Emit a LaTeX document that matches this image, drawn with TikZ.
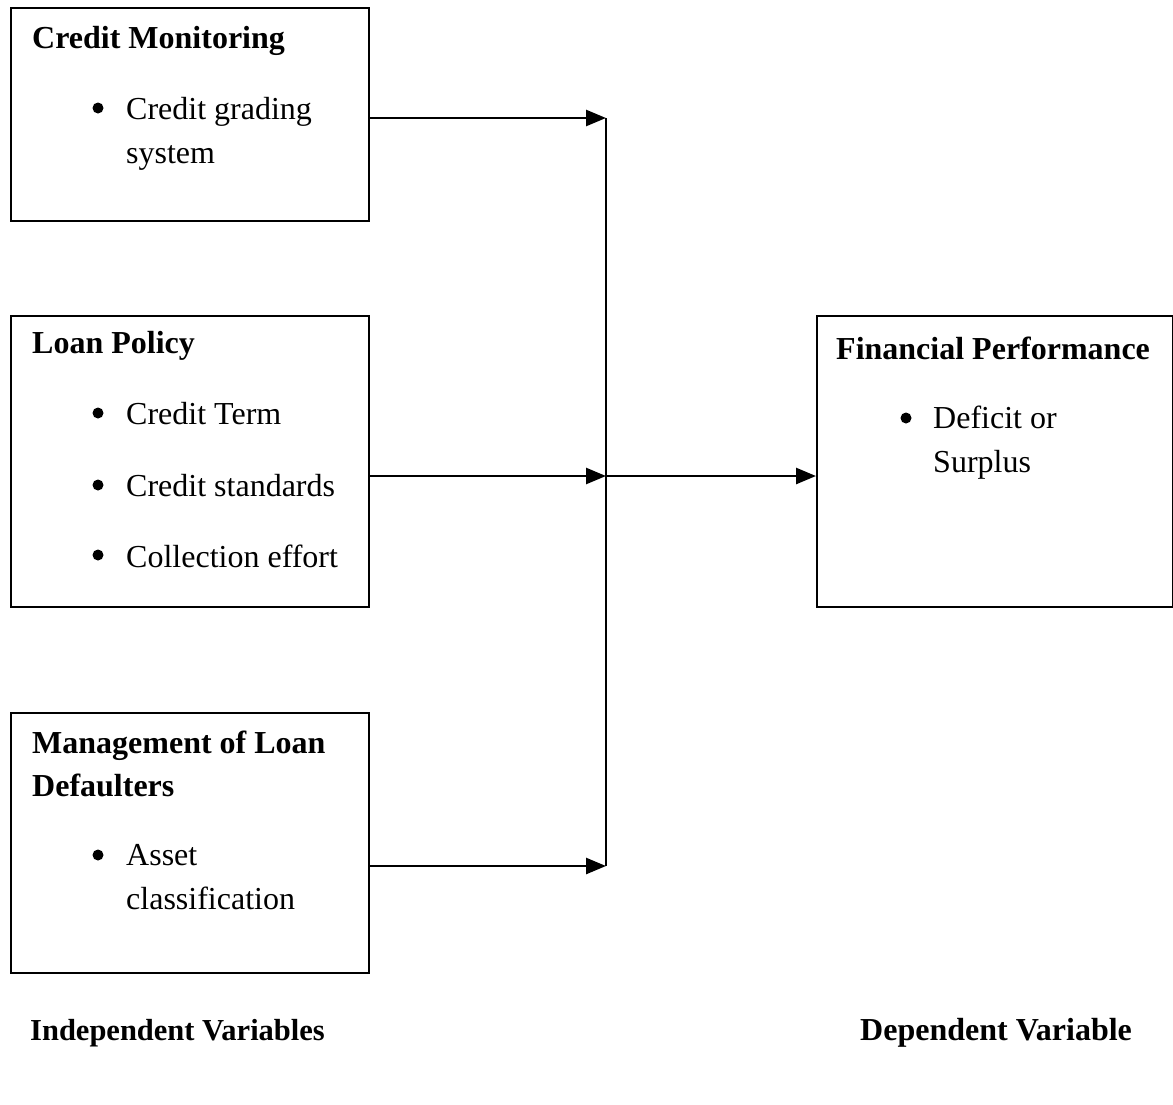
\documentclass[tikz,border=0pt]{standalone}
\usepackage{fontspec}
\setmainfont{Liberation Serif}
\usetikzlibrary{arrows.meta,positioning}

\tikzset{
  varbox/.style={draw, line width=1.6pt, minimum width=358pt, inner sep=0pt, anchor=north west},
  heading/.style={font=\bfseries\fontsize{32}{43}\selectfont, anchor=west, inner sep=0pt, align=left},
  entry/.style={font=\fontsize{32}{44}\selectfont, anchor=west, inner sep=0pt, align=left},
  dot/.style={circle, fill, inner sep=0pt, minimum size=11pt},
  feed/.style={line width=2.6pt, -{Triangle[length=20pt,width=16pt]}}
}

\begin{document}
\begin{tikzpicture}[x=1pt, y=-1pt]
\useasboundingbox (0,0) rectangle (1173,1104);

% boxes
\node[varbox, minimum height=213pt] (monbox) at (10,7) {};
\node[varbox, minimum height=291pt] (polbox) at (10,315) {};
\node[varbox, minimum height=260pt] (defbox) at (10,712) {};
\node[varbox, minimum width=356pt, minimum height=291pt] (finbox) at (816,315) {};

% credit monitoring
\node[heading] (montitle) at (32,41) {Credit Monitoring};
\node[dot] (mondot) at (98,108) {};
\node[entry] (monitem) at (126,134) {Credit grading\\system};

% loan policy
\node[heading] (poltitle) at (32,346) {Loan Policy};
\node[dot] (poldota) at (98,413) {};
\node[entry] (politema) at (126,414) {Credit Term};
\node[dot] (poldotb) at (98,485) {};
\node[entry] (politemb) at (126,486) {Credit standards};
\node[dot] (poldotc) at (98,555) {};
\node[entry] (politemc) at (126,556) {Collection effort};

% loan defaulters
\node[heading] (deftitle) at (32,764) {Management of Loan\\Defaulters};
\node[dot] (defdot) at (98,855) {};
\node[entry] (defitem) at (126,877) {Asset\\classification};

% financial performance
\node[heading] (fintitle) at (836,348) {Financial Performance};
\node[dot] (findot) at (906,418) {};
\node[entry] (finitem) at (933,443) {Deficit or\\Surplus};

% connectors
\coordinate (jtop) at (606,118);
\coordinate (jmid) at (606,476);
\coordinate (jbot) at (606,866);
\draw[line width=1.6pt] (jtop) -- (jbot);
\draw[feed] (monbox.east |- jtop) -- (jtop);
\draw[feed] (polbox.east |- jmid) -- (jmid);
\draw[feed] (defbox.east |- jbot) -- (jbot);
\draw[feed] (jmid) -- (finbox.west |- jmid);

% captions
\node[heading, font=\bfseries\fontsize{30.5}{40}\selectfont] (indep) at (30,1033) {Independent Variables};
\node[heading] (dep) at (860,1033) {Dependent Variable};
\end{tikzpicture}
\end{document}
